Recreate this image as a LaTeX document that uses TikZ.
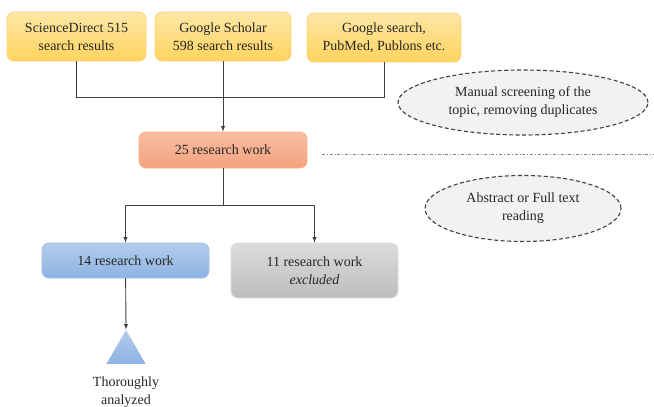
\documentclass[tikz,border=0pt]{standalone}
\usepackage{fontspec}
\setmainfont{Liberation Serif}
\usetikzlibrary{arrows,shapes.geometric}

\definecolor{yelTop}{HTML}{FDE7A6}
\definecolor{yelBot}{HTML}{FFD45E}
\definecolor{yelLine}{HTML}{FFD37A}
\definecolor{orTop}{HTML}{F9BEA2}
\definecolor{orBot}{HTML}{F4A27D}
\definecolor{orLine}{HTML}{F4B183}
\definecolor{blTop}{HTML}{B2CCEC}
\definecolor{blBot}{HTML}{8DB3E2}
\definecolor{blLine}{HTML}{9DC3E6}
\definecolor{grTop}{HTML}{DCDCDC}
\definecolor{grBot}{HTML}{BDBDBD}
\definecolor{txt}{HTML}{262626}
\definecolor{ln}{HTML}{404040}

\begin{document}
\begin{tikzpicture}[x=1pt,y=-1pt,font=\fontsize{14}{18}\selectfont,text=txt]
      \useasboundingbox (0,0) rectangle (654,407);
      \tikzstyle{box}=[rectangle,rounded corners=7pt,align=center,
        inner sep=0pt,line width=0.8pt]
      \tikzstyle{note}=[ellipse,draw=ln,dashed,dash pattern=on 4pt off 2.5pt,
        line width=1.1pt,fill=gray!10,align=center,inner sep=0pt]

      \node[box][minimum width=139,minimum height=49,top color=yelTop,
        bottom color=yelBot,draw=yelLine] (SD) at (76.5,36.5)
        {ScienceDirect 515\\search results};
      \node[box][minimum width=136,minimum height=49,top color=yelTop,
        bottom color=yelBot,draw=yelLine] (GS) at (223,36.5)
        {Google Scholar\\598 search results};
      \node[box][minimum width=154,minimum height=49,top color=yelTop,
        bottom color=yelBot,draw=yelLine] (PM) at (384,37.5)
        {Google search,\\PubMed, Publons etc.};

      \node[box][minimum width=168,minimum height=36,top color=orTop,
        bottom color=orBot,draw=orLine] (RW25) at (223,150)
        {25 research work};
      \node[box][minimum width=167,minimum height=35,top color=blTop,
        bottom color=blBot,draw=blLine] (RW14) at (125.5,260.5)
        {14 research work};
      \node[box][minimum width=167,minimum height=55,top color=grTop,
        bottom color=grBot,draw=grTop] (RW11) at (314.5,270.5)
        {11 research work\\\textit{excluded}};

      \node[regular polygon,regular polygon sides=3,minimum size=45pt,
        inner sep=0pt,top color=blTop,bottom color=blBot] (TA) at (126,352.5) {};
      \node[align=center] (TAlbl) at (126,392) {Thoroughly\\analyzed};

      \node[note][minimum width=250,minimum height=65] (MS) at (523,102.5)
        {Manual screening of the\\topic, removing duplicates};
      \node[note][minimum width=196,minimum height=66] (AF) at (523,208.5)
        {Abstract or Full text\\reading};

      \tikzstyle{ar}=[->,>=latex,draw=ln,line width=0.9pt]
      \tikzstyle{ln}=[draw=ln,line width=0.9pt]

      \coordinate (J1) at (223,97);
      \coordinate (J2) at (223,205);
      \coordinate (SepL) at (322,154);
      \coordinate (SepR) at (654,154);

      \draw[ln] (SD) |- (J1);
      \draw[ln] (PM) |- (J1);
      \draw[ar] (GS) -- (RW25);
      \draw[ln] (RW25) -- (J2);
      \draw[ar] (J2) -| (RW14);
      \draw[ar] (J2) -| (RW11);
      \draw[ar] (RW14) -- (TA.north);

      \draw[draw=gray,line width=0.7pt,dash dot] (SepL) -- (SepR);

    \end{tikzpicture}
\end{document}
